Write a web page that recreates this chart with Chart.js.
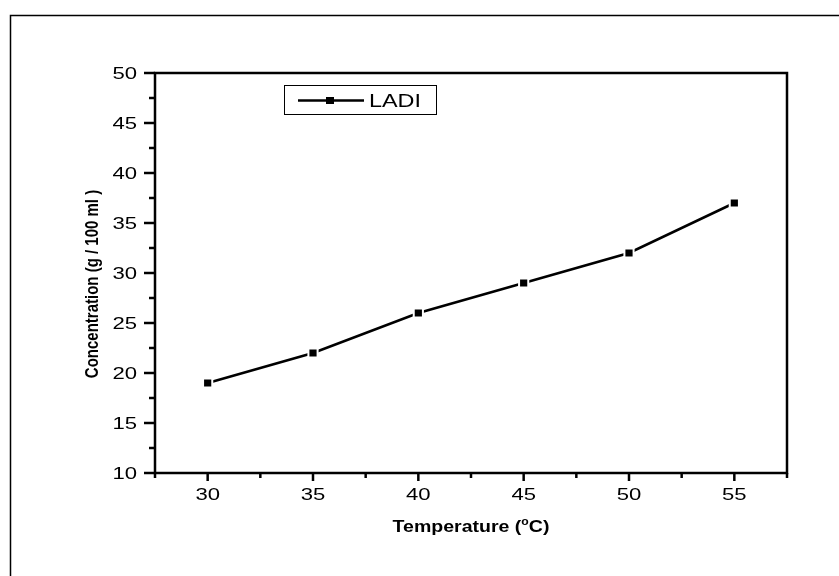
<!DOCTYPE html>
<html>
<head>
<meta charset="utf-8">
<script src="https://cdn.jsdelivr.net/npm/chart.js@4"></script>
<style>
  html, body { margin: 0; padding: 0; background: #fff; }
  canvas { display: block; }
</style>
</head>
<body>
<canvas id="grafico" width="839" height="576"></canvas>
<script>
// dados
const temperaturas = [30, 35, 40, 45, 50, 55];
const concentracao = [19, 22, 26, 29, 32, 37];
const serieNome = "LADI";

// ticks
const xMaiores = [30, 35, 40, 45, 50, 55];
const xMenores = [27.5, 32.5, 37.5, 42.5, 47.5, 52.5, 57.5];
const yMaiores = [10, 15, 20, 25, 30, 35, 40, 45, 50];
const yMenores = [12.5, 17.5, 22.5, 27.5, 32.5, 37.5, 42.5, 47.5];

const tituloX = "Temperature (";
const tituloY = "Concentration (g / 100 ml )";

const FONTE = '"Liberation Sans", Arial, sans-serif';
const ESTICA = 1.3; // o original parece esticado na horizontal

function textoEsticado(ctx, txt, x, y, align, sx) {
  ctx.save();
  ctx.translate(x, y);
  ctx.scale(sx, 1);
  ctx.textAlign = align;
  ctx.fillText(txt, 0, 0);
  ctx.restore();
}

// desenha moldura, ticks, rótulos e legenda
const estiloOrigin = {
  id: "estiloOrigin",
  beforeDatasetsDraw(chart) {
    const ctx = chart.ctx;
    const area = chart.chartArea;
    ctx.save();
    ctx.strokeStyle = "#000";
    // moldura externa
    ctx.lineWidth = 1.5;
    ctx.strokeRect(10.5, 15.5, 1000, 1000);
    ctx.restore();
  },
  afterDraw(chart) {
    const ctx = chart.ctx;
    const area = chart.chartArea;
    const sx = chart.scales.x;
    const sy = chart.scales.y;
    ctx.save();
    ctx.strokeStyle = "#000";
    ctx.fillStyle = "#000";

    // caixa dos eixos
    ctx.lineWidth = 2.5;
    ctx.strokeRect(area.left, area.top, area.right - area.left, area.bottom - area.top);

    // ticks X
    ctx.lineWidth = 2.5;
    xMaiores.concat(xMenores).forEach(v => {
      const px = sx.getPixelForValue(v);
      const len = xMaiores.includes(v) ? 8 : 5;
      ctx.beginPath();
      ctx.moveTo(px, area.bottom);
      ctx.lineTo(px, area.bottom + len);
      ctx.stroke();
    });
    // ticks Y
    yMaiores.concat(yMenores).forEach(v => {
      const py = sy.getPixelForValue(v);
      const len = yMaiores.includes(v) ? 11 : 6;
      ctx.beginPath();
      ctx.moveTo(area.left, py);
      ctx.lineTo(area.left - len, py);
      ctx.stroke();
    });

    // rótulos
    ctx.font = "17px " + FONTE;
    ctx.textBaseline = "alphabetic";
    xMaiores.forEach(v => {
      textoEsticado(ctx, String(v), sx.getPixelForValue(v), area.bottom + 27, "center", ESTICA);
    });
    yMaiores.forEach(v => {
      textoEsticado(ctx, String(v), area.left - 18, sy.getPixelForValue(v) + 6, "right", ESTICA);
    });

    // título X com "o" sobrescrito
    const s = 1.22;
    ctx.font = "bold 16px " + FONTE;
    const w1 = ctx.measureText(tituloX).width;
    const w3 = ctx.measureText("C)").width;
    ctx.font = "bold 10px " + FONTE;
    const w2 = ctx.measureText("o").width;
    const total = (w1 + w2 + w3) * s;
    let x0 = (area.left + area.right) / 2 - total / 2;
    const base = 532;
    ctx.font = "bold 16px " + FONTE;
    textoEsticado(ctx, tituloX, x0, base, "left", s);
    ctx.font = "bold 10px " + FONTE;
    textoEsticado(ctx, "o", x0 + w1 * s, base - 7, "left", s);
    ctx.font = "bold 16px " + FONTE;
    textoEsticado(ctx, "C)", x0 + (w1 + w2) * s, base, "left", s);

    // título Y
    ctx.save();
    ctx.translate(98, 284);
    ctx.rotate(-Math.PI / 2);
    ctx.scale(1, 1.25);
    ctx.font = "bold 15px " + FONTE;
    ctx.textAlign = "center";
    ctx.fillText(tituloY, 0, 0);
    ctx.restore();

    // legenda
    const ds = chart.data.datasets[0];
    ctx.lineWidth = 1;
    ctx.strokeRect(284.5, 85.5, 152, 29);
    ctx.lineWidth = ds.borderWidth;
    ctx.beginPath();
    ctx.moveTo(298, 100.5);
    ctx.lineTo(364, 100.5);
    ctx.stroke();
    ctx.fillRect(326, 97, 8, 7);
    ctx.font = "18px " + FONTE;
    textoEsticado(ctx, serieNome, 369, 107, "left", ESTICA);

    ctx.restore();
  }
};

document.addEventListener("DOMContentLoaded", function () {
  const ctx = document.getElementById("grafico").getContext("2d");
  new Chart(ctx, {
    type: "line",
    data: {
      datasets: [{
        label: serieNome,
        data: temperaturas.map((t, i) => ({ x: t, y: concentracao[i] })),
        borderColor: "#000",
        backgroundColor: "#000",
        borderWidth: 2.5,
        tension: 0,
        pointStyle: "rect",
        pointRadius: 6.5,
        pointBorderWidth: 2,
        pointBorderColor: "#fff",
        pointBackgroundColor: "#000"
      }]
    },
    options: {
      responsive: false,
      animation: false,
      layout: { padding: { left: 155, top: 73, right: 52, bottom: 103 } },
      plugins: {
        legend: { display: false },
        tooltip: { enabled: false }
      },
      scales: {
        x: { type: "linear", min: 27.5, max: 57.5, display: false },
        y: { type: "linear", min: 10, max: 50, display: false }
      }
    },
    plugins: [estiloOrigin]
  });
});
</script>
</body>
</html>
